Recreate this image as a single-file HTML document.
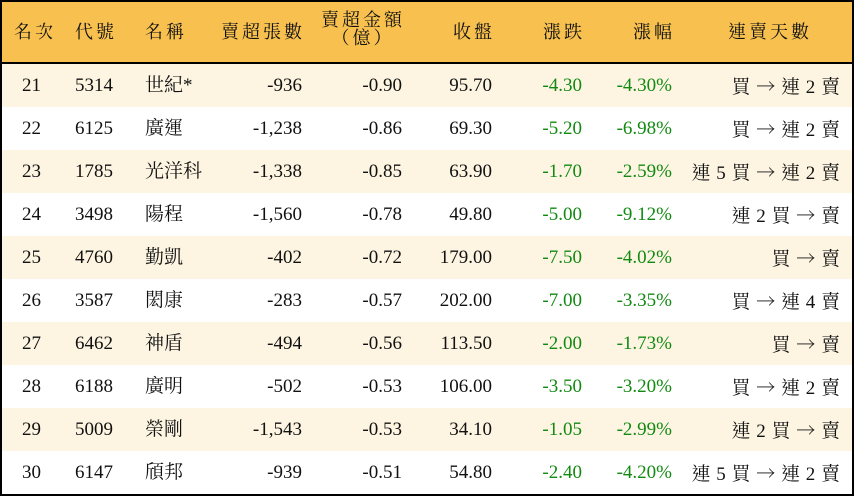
<!DOCTYPE html>
<html><head><meta charset="utf-8"><style>
body{margin:0;background:#fff}
#t{position:absolute;left:0;top:0;width:850px;height:492px;border:2px solid #000;overflow:hidden;font-family:"Liberation Serif","Noto Serif CJK TC","Noto Serif CJK SC",serif;font-size:19px;color:#111}
.h{position:absolute;left:0;top:0;width:850px;height:60px;background:#f8c14f;border-bottom:2px solid #000;font-size:18px}
.r{position:absolute;left:0;width:850px;height:43px}
.c{position:absolute;top:0;line-height:43px;white-space:nowrap}
.h .c{line-height:60px;letter-spacing:3px}
.g{color:#128a12}
.a{font-family:"Noto Serif CJK TC","Noto Sans CJK TC",serif}
</style></head><body><div id="t">
<div class="h">
<span class="c" style="left:12px">名次</span>
<span class="c" style="left:73px">代號</span>
<span class="c" style="left:143px">名稱</span>
<span class="c" style="right:547px">賣超張數</span>
<span class="c" style="right:447px;line-height:18px;top:9px;text-align:center">賣超金額<br>（億）</span>
<span class="c" style="right:357px">收盤</span>
<span class="c" style="right:267px">漲跌</span>
<span class="c" style="right:177px">漲幅</span>
<span class="c" style="left:726px">連賣天數</span>
</div>
<div id="rows"></div>
</div>
<script>
var d=[["21","5314","世紀*","-936","-0.90","95.70","-4.30","-4.30%","買 → 連 2 賣"],
["22","6125","廣運","-1,238","-0.86","69.30","-5.20","-6.98%","買 → 連 2 賣"],
["23","1785","光洋科","-1,338","-0.85","63.90","-1.70","-2.59%","連 5 買 → 連 2 賣"],
["24","3498","陽程","-1,560","-0.78","49.80","-5.00","-9.12%","連 2 買 → 賣"],
["25","4760","勤凱","-402","-0.72","179.00","-7.50","-4.02%","買 → 賣"],
["26","3587","閎康","-283","-0.57","202.00","-7.00","-3.35%","買 → 連 4 賣"],
["27","6462","神盾","-494","-0.56","113.50","-2.00","-1.73%","買 → 賣"],
["28","6188","廣明","-502","-0.53","106.00","-3.50","-3.20%","買 → 連 2 賣"],
["29","5009","榮剛","-1,543","-0.53","34.10","-1.05","-2.99%","連 2 買 → 賣"],
["30","6147","頎邦","-939","-0.51","54.80","-2.40","-4.20%","連 5 買 → 連 2 賣"]];
var h="";
d.forEach(function(r,i){
h+='<div class="r" style="top:'+(62+43*i)+'px;background:'+(i%2?'#fff':'#fdf5e2')+'">'+
'<span class="c" style="left:20px">'+r[0]+'</span>'+
'<span class="c" style="left:73px">'+r[1]+'</span>'+
'<span class="c" style="left:143px">'+r[2]+'</span>'+
'<span class="c" style="right:550px">'+r[3]+'</span>'+
'<span class="c" style="right:450px">'+r[4]+'</span>'+
'<span class="c" style="right:360px">'+r[5]+'</span>'+
'<span class="c g" style="right:270px">'+r[6]+'</span>'+
'<span class="c g" style="right:180px">'+r[7]+'</span>'+
'<span class="c" style="right:12px;word-spacing:1px">'+r[8].replace('→','<span class="a">→</span>')+'</span></div>';});
document.getElementById("rows").innerHTML=h;
</script>
</body></html>
